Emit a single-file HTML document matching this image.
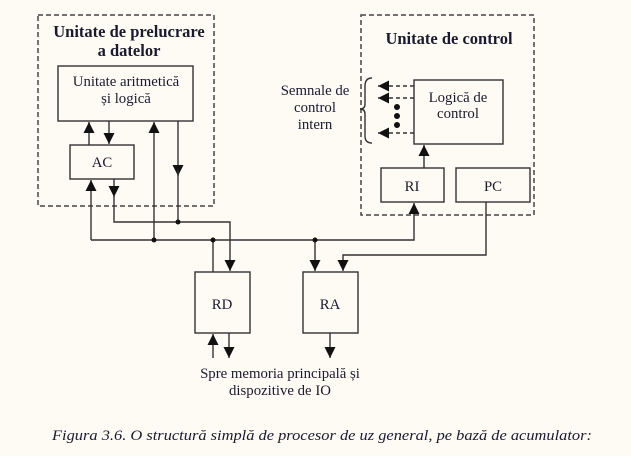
<!DOCTYPE html>
<html><head><meta charset="utf-8"><style>
html,body{margin:0;padding:0;background:#fefbf5;}
svg{display:block;}
text{font-family:"Liberation Serif",serif;fill:#1a1a2e;}
</style></head><body>
<svg width="631" height="456" viewBox="0 0 631 456" xmlns="http://www.w3.org/2000/svg">
<defs>
<marker id="a" viewBox="0 0 10 10" refX="10" refY="5" markerWidth="11" markerHeight="11" markerUnits="userSpaceOnUse" orient="auto"><path d="M0,0 L10,5 L0,10 z" fill="#111"/></marker>
</defs>
<g fill="none" stroke="#444" stroke-width="1.5">
<rect x="38" y="15" width="176" height="191" stroke-dasharray="5,3"/>
<rect x="361" y="15" width="173" height="200" stroke-dasharray="5,3"/>
</g>
<g fill="#fefbf5" stroke="#333" stroke-width="1.4">
<rect x="58" y="66" width="135" height="55"/>
<rect x="70" y="145" width="64" height="34"/>
<rect x="414" y="80" width="89" height="64"/>
<rect x="381" y="168" width="63" height="34"/>
<rect x="456" y="168" width="74" height="34"/>
<rect x="195" y="272" width="55" height="61"/>
<rect x="303" y="272" width="55" height="61"/>
</g>
<g fill="none" stroke="#333" stroke-width="1.4">
<line x1="89" y1="145" x2="89" y2="122" marker-end="url(#a)"/>
<line x1="109" y1="121" x2="109" y2="144" marker-end="url(#a)"/>
<line x1="154" y1="240" x2="154" y2="122" marker-end="url(#a)"/>
<polyline points="178,121 178,176"  marker-end="url(#a)"/>
<line x1="178" y1="170" x2="178" y2="222"/>
<line x1="91" y1="240" x2="91" y2="180" marker-end="url(#a)"/>
<line x1="114" y1="179" x2="114" y2="197" marker-end="url(#a)"/>
<polyline points="114,195 114,222 230,222 230,271" marker-end="url(#a)"/>
<polyline points="91,240 414,240 414,203" marker-end="url(#a)"/>
<line x1="213" y1="240" x2="213" y2="272"/>
<line x1="315" y1="240" x2="315" y2="271" marker-end="url(#a)"/>
<polyline points="486,202 486,255 343,255 343,271" marker-end="url(#a)"/>
<line x1="424" y1="168" x2="424" y2="145" marker-end="url(#a)"/>
<line x1="213" y1="358" x2="213" y2="334" marker-end="url(#a)"/>
<line x1="229" y1="333" x2="229" y2="358" marker-end="url(#a)"/>
<line x1="330" y1="333" x2="330" y2="358" marker-end="url(#a)"/>
<g stroke-dasharray="4,3">
<line x1="414" y1="86" x2="378" y2="86" marker-end="url(#a)"/>
<line x1="414" y1="98" x2="378" y2="98" marker-end="url(#a)"/>
<line x1="414" y1="133" x2="378" y2="133" marker-end="url(#a)"/>
</g>
<path d="M372,78 Q365,78 365,86 L365,104 Q365,109 360,109 Q365,109 365,114 L365,136 Q365,143 372,143"/>
</g>
<g fill="#111">
<circle cx="178" cy="222" r="2.5"/><circle cx="154" cy="240" r="2.5"/>
<circle cx="213" cy="240" r="2.5"/><circle cx="315" cy="240" r="2.5"/>
<circle cx="397" cy="107" r="3"/><circle cx="397" cy="116" r="3"/><circle cx="397" cy="125" r="3"/>
</g>
<g font-size="16.5" font-weight="bold" text-anchor="middle">
<text x="129" y="37">Unitate de prelucrare</text>
<text x="129" y="56">a datelor</text>
<text x="449" y="44">Unitate de control</text>
</g>
<g font-size="14.8" text-anchor="middle">
<text x="126" y="86">Unitate aritmetică</text>
<text x="126" y="103">și logică</text>
<text x="102" y="167">AC</text>
<text x="458" y="102">Logică de</text>
<text x="458" y="118">control</text>
<text x="412" y="191">RI</text>
<text x="493" y="191">PC</text>
<text x="222" y="309">RD</text>
<text x="330" y="309">RA</text>
<text x="315" y="95">Semnale de</text>
<text x="315" y="112">control</text>
<text x="315" y="129">intern</text>
<text x="280" y="378">Spre memoria principală și</text>
<text x="280" y="395">dispozitive de IO</text>
</g>
<text x="52" y="440" font-size="15" font-style="italic" textLength="540" lengthAdjust="spacingAndGlyphs">Figura 3.6. O structură simplă de procesor de uz general, pe bază de acumulator:</text>
</svg>
</body></html>
